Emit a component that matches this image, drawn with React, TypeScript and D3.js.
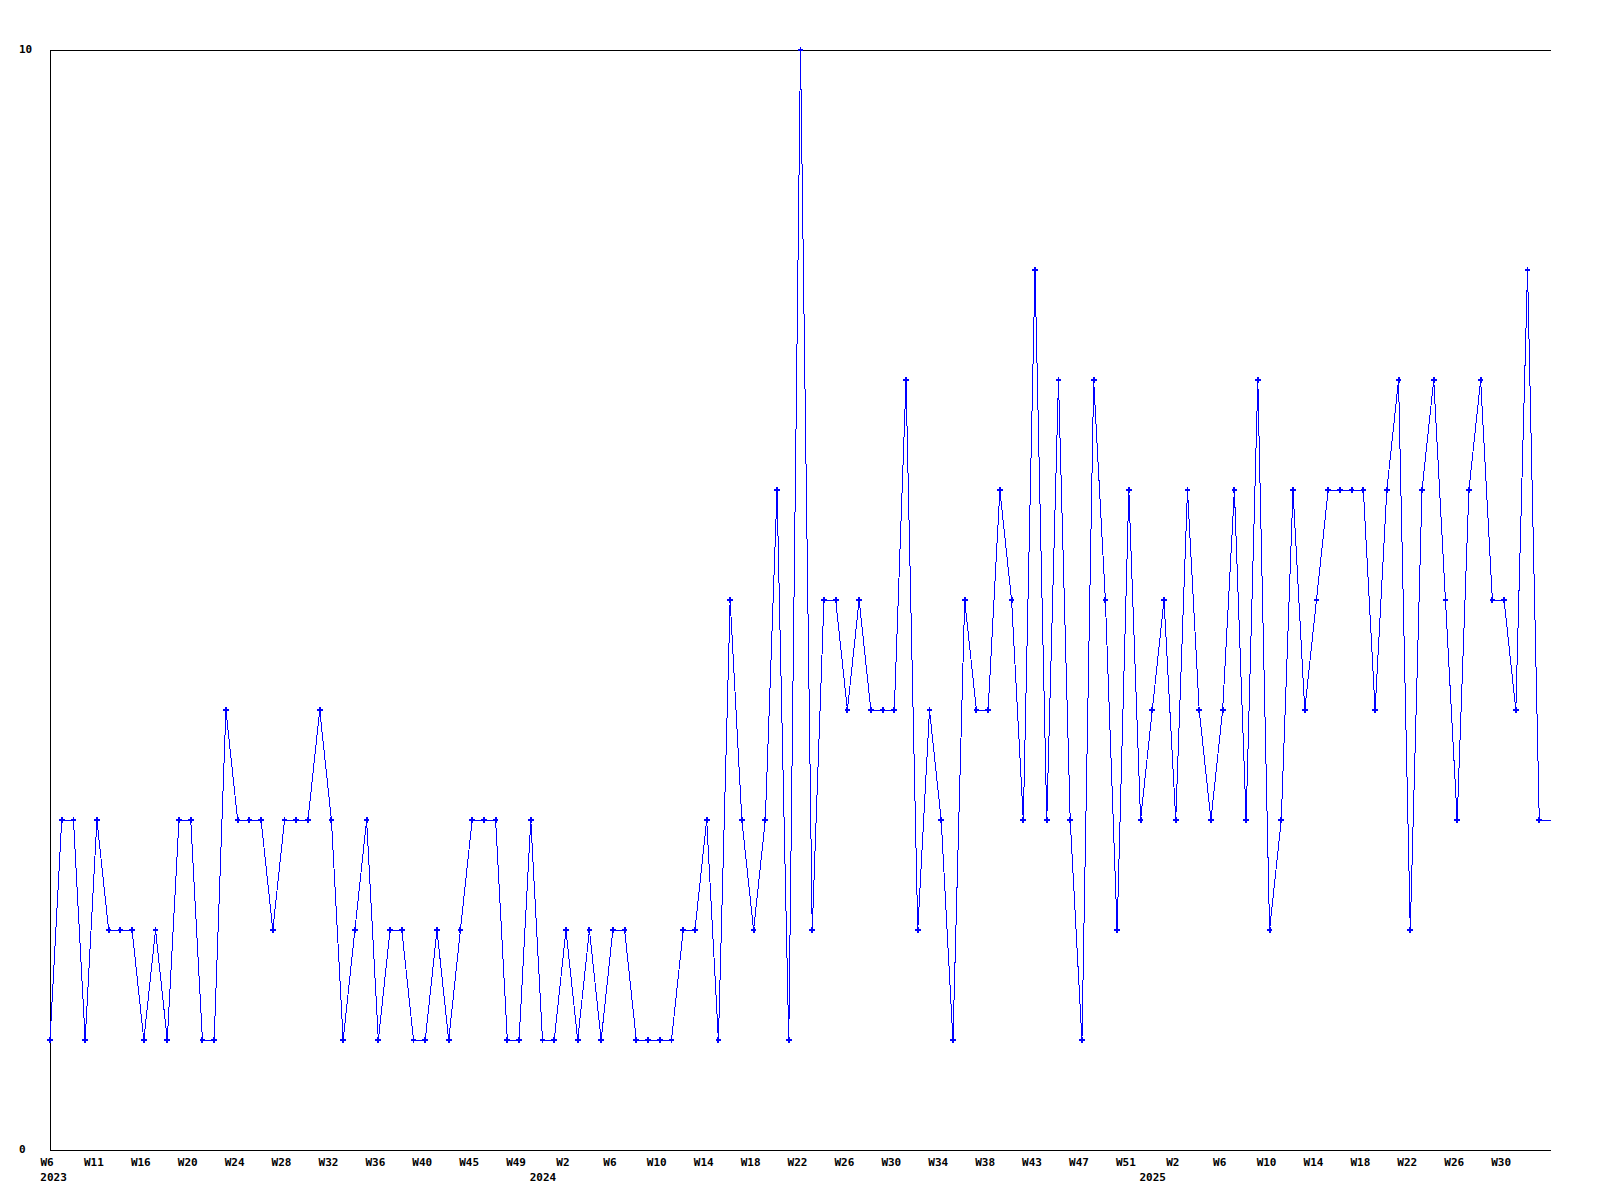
import React from "react";
import * as d3 from "d3";

// week numbers per year, in the order the points were plotted
const weeks2023 = [6, 7, 8, 9, 11, 12, 13, 14, 16, 17, 18, 19, 20, 21, 22, 23, 24, 25, 26, 27, 28, 29, 30, 31, 32, 33, 34, 35, 36, 37, 38, 39, 40, 41, 42, 43, 45, 46, 47, 48, 49, 50, 51, 52];
const weeks2024 = [2, 3, 4, 5, 6, 7, 8, 9, 10, 11, 12, 13, 14, 15, 16, 17, 18, 19, 20, 21, 22, 23, 24, 25, 26, 27, 28, 29, 30, 31, 32, 33, 34, 35, 36, 37, 38, 39, 40, 41, 43, 44, 45, 46, 47, 48, 49, 50, 51, 52, 53];
const weeks2025 = [1, 2, 3, 4, 5, 6, 7, 8, 9, 10, 11, 12, 13, 14, 15, 16, 17, 18, 19, 20, 21, 22, 23, 24, 25, 26, 27, 28, 29, 30, 31, 32, 33, 34];

const counts = [
  1, 3, 3, 1, 3, 2, 2, 2, 1, 2,
  1, 3, 3, 1, 1, 4, 3, 3, 3, 2,
  3, 3, 3, 4, 3, 1, 2, 3, 1, 2,
  2, 1, 1, 2, 1, 2, 3, 3, 3, 1,
  1, 3, 1, 1, 2, 1, 2, 1, 2, 2,
  1, 1, 1, 1, 2, 2, 3, 1, 5, 3,
  2, 3, 6, 1, 10, 2, 5, 5, 4, 5,
  4, 4, 4, 7, 2, 4, 3, 1, 5, 4,
  4, 6, 5, 3, 8, 3, 7, 3, 1, 7,
  5, 2, 6, 3, 4, 5, 3, 6, 4, 3,
  4, 6, 3, 7, 2, 3, 6, 4, 5, 6,
  6, 6, 6, 4, 6, 7, 2, 6, 7, 5,
  3, 6, 7, 5, 5, 4, 8, 3, 3,
];

const yTicks = [0, 10];
const tickEvery = 4;

type Pt = { key: string; year: number; week: number; value: number };

const points: Pt[] = [
  ...weeks2023.map(w => ({ year: 2023, week: w })),
  ...weeks2024.map(w => ({ year: 2024, week: w })),
  ...weeks2025.map(w => ({ year: 2025, week: w })),
].map((d, i) => ({ ...d, key: `${d.year}-W${d.week}`, value: counts[i] }));

const width = 1600;
const height = 1200;
const margin = { top: 50, right: 49, bottom: 50, left: 50 };
const font = "'DejaVu Sans Mono', monospace";
const charW = 6.6;

export default function App() {
  const x = d3
    .scalePoint<string>()
    .domain(points.map(d => d.key))
    .range([margin.left, width - margin.right]);
  const y = d3
    .scaleLinear()
    .domain([0, 10])
    .range([height - margin.bottom, margin.top]);

  const line = d3
    .line<Pt>()
    .x(d => x(d.key)!)
    .y(d => y(d.value));

  const cross = d3.symbol(d3.symbolCross, 18)()!;
  const dot = d3.symbol(d3.symbolDiamond, 8)()!;

  const x0 = margin.left;
  const x1 = width - margin.right;
  const yb = y(0);
  const yt = y(10);

  // every 4th week gets a label, as long as it fits inside the plot width
  const ticks = points.filter(
    (d, i) => i % tickEvery === 0 && x(d.key)! - 3 + (`W${d.week}`.length * charW) / 2 <= x1,
  );
  const firstLeft = x0 - 3 - (`W${ticks[0].week}`.length * charW) / 2;
  const seenYears = new Set<number>();

  return (
    <svg
      width={width}
      height={height}
      style={{ position: "absolute", left: 0, top: 0, background: "#fff" }}
    >
      <rect width={width} height={height} fill="#fff" />
      <g stroke="#000" strokeWidth={1} shapeRendering="crispEdges">
        <line x1={x0} x2={x0} y1={yt} y2={yb} />
        <line x1={x0} x2={x1} y1={yt} y2={yt} />
        <line x1={x0} x2={x1} y1={yb} y2={yb} />
      </g>
      <g fontFamily={font} fontSize={11} fontWeight="bold" fill="#000">
        {yTicks.map(t => (
          <text key={t} x={19} y={y(t)} dominantBaseline="middle">
            {t}
          </text>
        ))}
        {ticks.map(d => {
          const first = !seenYears.has(d.year);
          seenYears.add(d.year);
          const cx = x(d.key)! - 3;
          const yearW = String(d.year).length * charW;
          const yx = Math.max(cx - 20, firstLeft + yearW / 2);
          return (
            <g key={d.key}>
              <text x={cx} y={yb + 16} textAnchor="middle">
                W{d.week}
              </text>
              {first && (
                <text x={yx} y={yb + 31} textAnchor="middle">
                  {d.year}
                </text>
              )}
            </g>
          );
        })}
      </g>
      <path
        d={line(points) ?? undefined}
        fill="none"
        stroke="#0000ff"
        strokeWidth={1}
        shapeRendering="crispEdges"
      />
      <g fill="#0000ff" shapeRendering="crispEdges">
        {points.slice(0, -1).map(d => (
          <g key={d.key} transform={`translate(${x(d.key)},${y(d.value)})`}>
            <path d={cross} />
            <path d={dot} />
          </g>
        ))}
      </g>
    </svg>
  );
}
